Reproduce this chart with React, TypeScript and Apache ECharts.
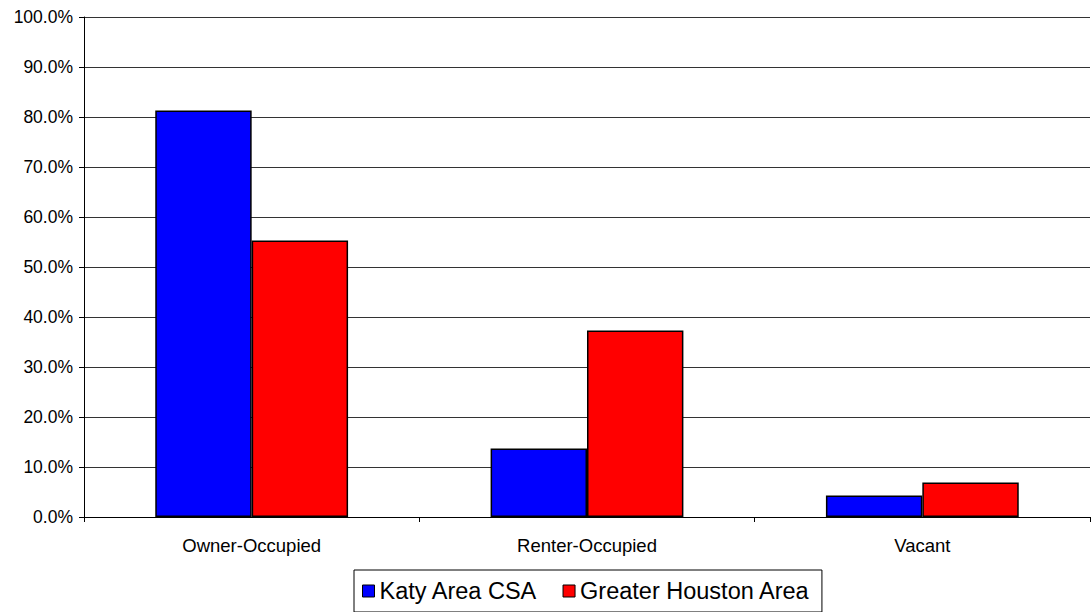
import React, { useEffect, useRef } from "react";
import * as echarts from "echarts";

const categories = ["Owner-Occupied", "Renter-Occupied", "Vacant"];
const seriesNames = ["Katy Area CSA", "Greater Houston Area"];
const katyValues = [81.3, 13.7, 4.3];
const houstonValues = [55.3, 37.3, 6.9];
const seriesColors = ["#0000FF", "#FF0000"];

export default function App() {
  const ref = useRef<HTMLDivElement>(null);
  useEffect(() => {
    if (!ref.current) return;
    const chart = echarts.init(ref.current, null, { renderer: "svg" });
    const font = "Arial, 'Liberation Sans', sans-serif";
    chart.setOption({
      animation: false,
      backgroundColor: "#FFFFFF",
      grid: { left: 84, right: 1, top: 17, height: 500, containLabel: false },
      legend: {
        left: 354,
        top: 570,
        padding: [9, 12, 9, 8],
        borderColor: "#000",
        borderWidth: 1,
        itemWidth: 12,
        itemHeight: 12,
        itemGap: 25,
        icon: "rect",
        itemStyle: { borderColor: "#000", borderWidth: 1 },
        textStyle: { fontFamily: font, fontSize: 23.5, color: "#000" },
        data: seriesNames,
      },
      xAxis: {
        type: "category",
        data: categories,
        axisLine: { lineStyle: { color: "#000", width: 1 } },
        axisTick: { show: true, length: 5, lineStyle: { color: "#000" } },
        axisLabel: { fontFamily: font, fontSize: 18.5, color: "#000", margin: 19 },
      },
      yAxis: {
        type: "value",
        min: 0,
        max: 100,
        interval: 10,
        axisLine: { show: true, lineStyle: { color: "#000", width: 1 } },
        axisTick: { show: true, length: 5, lineStyle: { color: "#000" } },
        axisLabel: {
          fontFamily: font,
          fontSize: 17.5,
          color: "#000",
          margin: 11,
          formatter: (v: number) => v.toFixed(1) + "%",
        },
        splitLine: { show: true, lineStyle: { color: "#333", width: 1 } },
      },
      series: [
        {
          name: seriesNames[0],
          type: "bar",
          data: katyValues,
          barGap: "0%",
          barCategoryGap: "42.5%",
          itemStyle: { color: seriesColors[0], borderColor: "#000", borderWidth: 1.5 },
        },
        {
          name: seriesNames[1],
          type: "bar",
          data: houstonValues,
          barGap: "0%",
          barCategoryGap: "42.5%",
          itemStyle: { color: seriesColors[1], borderColor: "#000", borderWidth: 1.5 },
        },
      ],
    });
    return () => chart.dispose();
  }, []);
  return (
    <div
      ref={ref}
      style={{ position: "fixed", left: 0, top: 0, width: 1091, height: 625, background: "#fff" }}
    />
  );
}
